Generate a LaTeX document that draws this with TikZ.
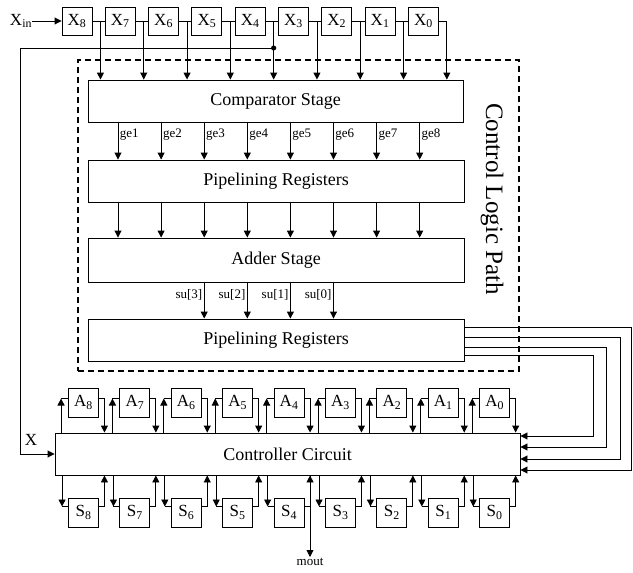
\documentclass[tikz,border=0pt]{standalone}
\usepackage{fontspec}
\setmainfont{Liberation Serif}
\newfontfamily\tmsfont{Liberation Serif}
\usetikzlibrary{arrows.meta,calc}
\begin{document}
\begin{tikzpicture}[x=1pt,y=-1pt, line width=0.9pt,
  every node/.append style={font=\tmsfont},
  box/.style={draw, rectangle, inner sep=0pt, fill=white},
  reg/.style={box, minimum width=30pt, minimum height=28pt, font=\tmsfont\fontsize{17}{17}\selectfont},
  stage/.style={box, minimum width=376pt, minimum height=42pt, font=\tmsfont\fontsize{18}{20}\selectfont},
  arr/.style={-{Triangle[length=7pt,width=7pt]}},
  lab/.style={font=\tmsfont\fontsize{13}{13}\selectfont, inner sep=1.5pt},
  dashbox/.style={draw, line width=1.6pt, dash pattern=on 6pt off 4pt, inner sep=0pt}]
\useasboundingbox (0,0) rectangle (633,573);

% dashed control logic box
\node[dashbox, minimum width=441pt, minimum height=311pt] (clp) at (298.5,215.5) {};
\node[rotate=-90, font=\tmsfont\fontsize{25}{25}\selectfont] (clpl) at (492,199) {Control Logic Path};

% stages
\node[stage, minimum width=375pt] (comp) at (275.5,101) {Comparator Stage};
\node[stage] (pipe1) at (276,181) {Pipelining Registers};
\node[stage, minimum height=44pt] (adder) at (276,260) {Adder Stage};
\node[stage] (pipe2) at (276,340) {Pipelining Registers};
\node[stage, minimum width=465pt] (cc) at (287.5,454) {Controller Circuit};

% X shift register
\foreach \k/\n in {0/8,1/7,2/6,3/5,4/4,5/3,6/2,7/1,8/0}{
  \node[reg] (x\n) at ({77+\k*43.3},21) {X\textsubscript{\n}};
  \coordinate (t\n) at ($(x\n.east)+(8,0)$);
}
\foreach \n/\m in {8/7,7/6,6/5,5/4,4/3,3/2,2/1,1/0}{
  \draw (x\n.east) -- (x\m.west);
}
\draw (x0.east) -- (t0);
\foreach \n in {8,7,6,5,4,3,2,1,0}{
  \draw[arr] (t\n) -- (t\n |- comp.north);
}
\node[font=\tmsfont\fontsize{17}{17}\selectfont, inner sep=0pt] (xin) at (21,21) {X\textsubscript{in}};
\draw[arr] (xin.east) -- (x8.west);

% tap to controller X input
\coordinate (dot) at ($(t4)+(0,27)$);
\coordinate (xl) at (20,48);
\fill (dot) circle (2.6pt);
\draw[arr] (dot) -- (xl) |- (cc.west);
\node[font=\tmsfont\fontsize{17}{17}\selectfont, inner sep=0pt] (xlab) at (31,440) {X};

% ge arrows and pipeline arrows
\foreach \j in {1,...,8}{
  \coordinate (g\j) at ({118+(\j-1)*43.1},0);
  \draw[arr] (g\j |- comp.south) -- (g\j |- pipe1.north) node[pos=0.33, right, lab] {ge\j};
  \draw[arr] (g\j |- pipe1.south) -- (g\j |- adder.north);
}
% su arrows
\foreach \j/\s in {3/3,4/2,5/1,6/0}{
  \draw[arr] (g\j |- adder.south) -- (g\j |- pipe2.north) node[pos=0.35, left, lab] {su[\s]};
}

% feedback from pipeline registers to controller
\foreach \yo/\xo/\yi in {327/631/470, 337/620/459, 347/606/447, 355/593/436}{
  \coordinate (fb) at (\xo,\yo);
  \draw[arr] (pipe2.east |- fb) -- (fb) -- (\xo,\yi) -- (cc.east |- 0,\yi);
}

% A registers
\foreach \k/\n in {0/8,1/7,2/6,3/5,4/4,5/3,6/2,7/1,8/0}{
  \node[reg, minimum height=29pt] (a\n) at ({83.5+\k*51.4},402.5) {A\textsubscript{\n}};
  \coordinate (ai\n) at ($(a\n.west)+(-7,-4)$);
  \coordinate (ao\n) at ($(a\n.east)+(5.5,-4)$);
  \draw[arr] (ai\n |- cc.north) -- (ai\n);
  \draw (ai\n) -- (ai\n -| a\n.west);
  \draw[arr] (a\n.east |- ao\n) -- (ao\n) -- (ao\n |- cc.north);
}

% S registers
\foreach \k/\n in {0/8,1/7,2/6,3/5,4/4,5/3,6/2,7/1,8/0}{
  \node[reg, minimum height=29pt] (s\n) at ({83.5+\k*51.4},512.5) {S\textsubscript{\n}};
  \coordinate (si\n) at ($(s\n.west)+(-6,-6)$);
  \coordinate (so\n) at ($(s\n.east)+(5.5,-6)$);
  \draw[arr] (si\n |- cc.south) -- (si\n);
  \draw (si\n) -- (si\n -| s\n.west);
  \draw[arr] (s\n.east |- so\n) -- (so\n) -- (so\n |- cc.south);
}

% mout
\node[font=\tmsfont\fontsize{13}{13}\selectfont, inner sep=1pt, anchor=north] (mout) at (310,557) {mout};
\draw[arr] (cc.south -| mout) -- (mout.north);
\end{tikzpicture}
\end{document}
